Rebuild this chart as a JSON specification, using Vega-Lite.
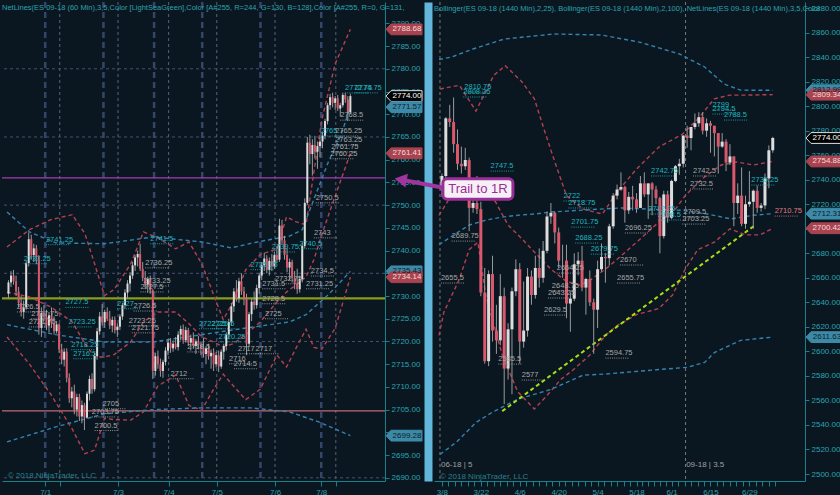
{
"$schema":"https://vega.github.io/schema/vega-lite/v6.json",
"background":"#0a1721",
"padding":0,
"spacing":49,
"bounds":"flush",
"config":{
 "view":{"stroke":null},
 "axis":{"labelFont":"Liberation Sans","labelFontSize":8,"labelColor":"#2aa3ad","domainColor":"#16808b","tickColor":"#16808b","grid":false,"tickSize":4,"labelPadding":2,"labelOverlap":false,"labelFlush":false},
 "title":{"font":"Liberation Sans","fontSize":7.5,"fontWeight":"normal","color":"#2aa3ad","anchor":"start","frame":"group","offset":-11}
},
"datasets":{
"L":[
{"i":0,"o":2730.5,"h":2733.5,"l":2729.5,"c":2733},{"i":1,"o":2733,"h":2735.5,"l":2732,"c":2734.5},{"i":2,"o":2734.5,"h":2735.75,"l":2732.5,"c":2733.25},{"i":3,"o":2733.25,"h":2734.5,"l":2730,"c":2731},{"i":4,"o":2731,"h":2732,"l":2727.5,"c":2728.5},{"i":5,"o":2728.5,"h":2730,"l":2725.5,"c":2726.5},{"i":6,"o":2726.5,"h":2729,"l":2725,"c":2727.5},{"i":7,"o":2727.5,"h":2737.75,"l":2727,"c":2737.25},{"i":8,"o":2737.25,"h":2744,"l":2736.5,"c":2742.5},{"i":9,"o":2742.5,"h":2743.5,"l":2738,"c":2739},
{"i":10,"o":2739,"h":2741.5,"l":2737.5,"c":2740.5},{"i":11,"o":2740.5,"h":2741.25,"l":2737,"c":2738.5},{"i":12,"o":2738.5,"h":2739,"l":2721.5,"c":2723},{"i":13,"o":2723,"h":2727.5,"l":2721,"c":2726.25},{"i":14,"o":2726.25,"h":2728,"l":2724.5,"c":2725.5},{"i":15,"o":2725.5,"h":2727,"l":2722.5,"c":2723.5},{"i":16,"o":2723.5,"h":2726.5,"l":2722,"c":2725.75},{"i":17,"o":2725.75,"h":2727.5,"l":2723,"c":2724},{"i":18,"o":2724,"h":2725.5,"l":2721.5,"c":2722.25},{"i":19,"o":2722.25,"h":2724.5,"l":2721.75,"c":2723.75},
{"i":20,"o":2723.75,"h":2724,"l":2717.5,"c":2718.25},{"i":21,"o":2718.25,"h":2719.5,"l":2715,"c":2716},{"i":22,"o":2716,"h":2718.5,"l":2714.5,"c":2717.75},{"i":23,"o":2717.75,"h":2718.5,"l":2711,"c":2712},{"i":24,"o":2712,"h":2713,"l":2706.5,"c":2707.5},{"i":25,"o":2707.5,"h":2710,"l":2705.5,"c":2709},{"i":26,"o":2709,"h":2710.5,"l":2704,"c":2705},{"i":27,"o":2705,"h":2708.5,"l":2703.5,"c":2707.75},{"i":28,"o":2707.75,"h":2708.5,"l":2702.5,"c":2703.5},{"i":29,"o":2703.5,"h":2707,"l":2702,"c":2706},
{"i":30,"o":2706,"h":2706.5,"l":2700.5,"c":2703.25},{"i":31,"o":2703.25,"h":2709,"l":2703,"c":2708.5},{"i":32,"o":2708.5,"h":2712.5,"l":2707,"c":2711.75},{"i":33,"o":2711.75,"h":2713,"l":2708.5,"c":2709.5},{"i":34,"o":2709.5,"h":2717.5,"l":2709,"c":2716.75},{"i":35,"o":2716.75,"h":2723,"l":2716,"c":2722.25},{"i":36,"o":2722.25,"h":2726.5,"l":2721.5,"c":2725.5},{"i":37,"o":2725.5,"h":2728.25,"l":2723.5,"c":2724.25},{"i":38,"o":2724.25,"h":2727,"l":2723,"c":2726.5},{"i":39,"o":2726.5,"h":2727.5,"l":2724.5,"c":2725},
{"i":40,"o":2725,"h":2726.75,"l":2722.75,"c":2723.5},{"i":41,"o":2723.5,"h":2725.5,"l":2722,"c":2724.75},{"i":42,"o":2724.75,"h":2725.5,"l":2721.75,"c":2722.5},{"i":43,"o":2722.5,"h":2724,"l":2721,"c":2723.25},{"i":44,"o":2723.25,"h":2726,"l":2722.5,"c":2725.5},{"i":45,"o":2725.5,"h":2728.5,"l":2724.75,"c":2728},{"i":46,"o":2728,"h":2731.5,"l":2727.25,"c":2730.75},{"i":47,"o":2730.75,"h":2733.5,"l":2729.5,"c":2732.75},{"i":48,"o":2732.75,"h":2735.25,"l":2731,"c":2734.5},{"i":49,"o":2734.5,"h":2737.5,"l":2733.75,"c":2736.75},
{"i":50,"o":2736.75,"h":2739,"l":2735.5,"c":2738.5},{"i":51,"o":2738.5,"h":2740,"l":2736.5,"c":2739.25},{"i":52,"o":2739.25,"h":2741.5,"l":2735.5,"c":2736},{"i":53,"o":2736,"h":2737.5,"l":2733.25,"c":2734},{"i":54,"o":2734,"h":2735.5,"l":2731.5,"c":2732.5},{"i":55,"o":2732.5,"h":2734.25,"l":2730.75,"c":2733.75},{"i":56,"o":2733.75,"h":2734.5,"l":2730.5,"c":2731.25},{"i":57,"o":2731.25,"h":2731.5,"l":2711.75,"c":2713.5},{"i":58,"o":2713.5,"h":2717.5,"l":2712.5,"c":2716.75},{"i":59,"o":2716.75,"h":2718,"l":2714,"c":2715},
{"i":60,"o":2715,"h":2716.25,"l":2712.25,"c":2713.5},{"i":61,"o":2713.5,"h":2716,"l":2712,"c":2715.5},{"i":62,"o":2715.5,"h":2718.75,"l":2714.75,"c":2718},{"i":63,"o":2718,"h":2720.5,"l":2717,"c":2719.75},{"i":64,"o":2719.75,"h":2720.75,"l":2717.5,"c":2718.5},{"i":65,"o":2718.5,"h":2720.25,"l":2717.75,"c":2719.5},{"i":66,"o":2719.5,"h":2721,"l":2718.25,"c":2718.75},{"i":67,"o":2718.75,"h":2722.25,"l":2718,"c":2721.5},{"i":68,"o":2721.5,"h":2723.5,"l":2720.25,"c":2722.75},{"i":69,"o":2722.75,"h":2723.75,"l":2719.5,"c":2720.25},
{"i":70,"o":2720.25,"h":2723.25,"l":2719.75,"c":2722.5},{"i":71,"o":2722.5,"h":2723,"l":2719,"c":2719.75},{"i":72,"o":2719.75,"h":2721.5,"l":2718,"c":2720.75},{"i":73,"o":2720.75,"h":2722,"l":2718.5,"c":2719},{"i":74,"o":2719,"h":2720.5,"l":2717.25,"c":2720},{"i":75,"o":2720,"h":2721.25,"l":2718.25,"c":2719.25},{"i":76,"o":2719.25,"h":2720,"l":2717,"c":2718.5},{"i":77,"o":2718.5,"h":2720.75,"l":2716.5,"c":2717.25},{"i":78,"o":2717.25,"h":2719,"l":2715,"c":2718.5},{"i":79,"o":2718.5,"h":2719.5,"l":2716,"c":2716.75},
{"i":80,"o":2716.75,"h":2718.25,"l":2714,"c":2717.5},{"i":81,"o":2717.5,"h":2718.5,"l":2713.5,"c":2715},{"i":82,"o":2715,"h":2717.75,"l":2714.25,"c":2717},{"i":83,"o":2717,"h":2718,"l":2713.25,"c":2714.5},{"i":84,"o":2714.5,"h":2718.25,"l":2714,"c":2717.75},{"i":85,"o":2717.75,"h":2719.5,"l":2716,"c":2719},{"i":86,"o":2719,"h":2722,"l":2718,"c":2721.5},{"i":87,"o":2721.5,"h":2725,"l":2720.5,"c":2724.25},{"i":88,"o":2724.25,"h":2728.5,"l":2723.5,"c":2727.75},{"i":89,"o":2727.75,"h":2731.75,"l":2726.5,"c":2731},
{"i":90,"o":2731,"h":2733.5,"l":2728.75,"c":2729.5},{"i":91,"o":2729.5,"h":2734,"l":2728.5,"c":2733.25},{"i":92,"o":2733.25,"h":2735,"l":2730.25,"c":2731},{"i":93,"o":2731,"h":2732,"l":2728,"c":2729.5},{"i":94,"o":2729.5,"h":2730.5,"l":2717,"c":2719.5},{"i":95,"o":2719.5,"h":2726.5,"l":2718.75,"c":2726},{"i":96,"o":2726,"h":2729.5,"l":2724.5,"c":2728.75},{"i":97,"o":2728.75,"h":2731,"l":2727,"c":2728},{"i":98,"o":2728,"h":2732.5,"l":2727.25,"c":2731.75},{"i":99,"o":2731.75,"h":2735,"l":2730.5,"c":2734.5},
{"i":100,"o":2734.5,"h":2737.5,"l":2733.5,"c":2736.75},{"i":101,"o":2736.75,"h":2739.5,"l":2735.5,"c":2738.25},{"i":102,"o":2738.25,"h":2739,"l":2735,"c":2735.75},{"i":103,"o":2735.75,"h":2738.5,"l":2734.5,"c":2737.75},{"i":104,"o":2737.75,"h":2739.25,"l":2735.5,"c":2736.5},{"i":105,"o":2736.5,"h":2739.75,"l":2736,"c":2739},{"i":106,"o":2739,"h":2741,"l":2737.25,"c":2738},{"i":107,"o":2738,"h":2747,"l":2737.5,"c":2745.5},{"i":108,"o":2745.5,"h":2746.75,"l":2741.5,"c":2742.25},{"i":109,"o":2742.25,"h":2743.25,"l":2738,"c":2739},
{"i":110,"o":2739,"h":2740.5,"l":2735.25,"c":2736.25},{"i":111,"o":2736.25,"h":2738.25,"l":2733.5,"c":2737.5},{"i":112,"o":2737.5,"h":2738,"l":2733,"c":2734},{"i":113,"o":2734,"h":2735.5,"l":2731.5,"c":2732.75},{"i":114,"o":2732.75,"h":2736,"l":2730.5,"c":2731.5},{"i":115,"o":2731.5,"h":2734.5,"l":2730.75,"c":2733.75},{"i":116,"o":2733.75,"h":2741.75,"l":2733,"c":2741},{"i":117,"o":2741,"h":2751.5,"l":2740.5,"c":2750.5},{"i":118,"o":2750.5,"h":2765,"l":2750,"c":2763.75},{"i":119,"o":2763.75,"h":2765.5,"l":2759,"c":2761.25},
{"i":120,"o":2761.25,"h":2764.5,"l":2756.5,"c":2763.25},{"i":121,"o":2763.25,"h":2765.25,"l":2760.25,"c":2761.75},{"i":122,"o":2761.75,"h":2764,"l":2758,"c":2763},{"i":123,"o":2763,"h":2765,"l":2760.5,"c":2764},{"i":124,"o":2764,"h":2766,"l":2762.5,"c":2765.25},{"i":125,"o":2765.25,"h":2769,"l":2764.5,"c":2768.5},{"i":126,"o":2768.5,"h":2772.5,"l":2767.75,"c":2772},{"i":127,"o":2772,"h":2774.5,"l":2771,"c":2773.75},{"i":128,"o":2773.75,"h":2774.75,"l":2771.5,"c":2772.5},{"i":129,"o":2772.5,"h":2774,"l":2771,"c":2773.5},
{"i":130,"o":2773.5,"h":2774.25,"l":2770.75,"c":2771.25},{"i":131,"o":2771.25,"h":2772.5,"l":2769.5,"c":2772},{"i":132,"o":2772,"h":2774.75,"l":2771.5,"c":2774.25},{"i":133,"o":2774.25,"h":2774.75,"l":2772.5,"c":2773.25},{"i":134,"o":2773.25,"h":2774,"l":2768.5,"c":2770.5},{"i":135,"o":2770.5,"h":2774.5,"l":2770,"c":2774}
],
"R":[
{"i":0,"o":2732,"h":2745,"l":2726,"c":2743},{"i":1,"o":2743,"h":2791,"l":2740,"c":2790},{"i":2,"o":2790,"h":2801,"l":2783,"c":2787},{"i":3,"o":2787,"h":2807,"l":2762,"c":2769},{"i":4,"o":2769,"h":2781,"l":2748,"c":2753},{"i":5,"o":2753,"h":2767,"l":2745,"c":2751},{"i":6,"o":2751,"h":2766,"l":2748,"c":2756},{"i":7,"o":2756,"h":2758,"l":2698,"c":2717},{"i":8,"o":2717,"h":2728,"l":2713,"c":2721},{"i":9,"o":2721,"h":2743,"l":2712,"c":2716},
{"i":10,"o":2716,"h":2722,"l":2645,"c":2648},{"i":11,"o":2648,"h":2668,"l":2590,"c":2592},{"i":12,"o":2592,"h":2666,"l":2588,"c":2663},{"i":13,"o":2663,"h":2678,"l":2608,"c":2617},{"i":14,"o":2617,"h":2638,"l":2598,"c":2609},{"i":15,"o":2609,"h":2663,"l":2605,"c":2645},{"i":16,"o":2645,"h":2652,"l":2557,"c":2586},{"i":17,"o":2586,"h":2623,"l":2577,"c":2618},{"i":18,"o":2618,"h":2652,"l":2565,"c":2649},{"i":19,"o":2649,"h":2675,"l":2645,"c":2667},
{"i":20,"o":2667,"h":2672,"l":2590,"c":2608},{"i":21,"o":2608,"h":2657,"l":2603,"c":2617},{"i":22,"o":2617,"h":2668,"l":2612,"c":2661},{"i":23,"o":2661,"h":2666,"l":2638,"c":2646},{"i":24,"o":2646,"h":2678,"l":2643,"c":2668},{"i":25,"o":2668,"h":2684,"l":2652,"c":2660},{"i":26,"o":2660,"h":2690,"l":2656,"c":2682},{"i":27,"o":2682,"h":2714,"l":2680,"c":2710},{"i":28,"o":2710,"h":2721,"l":2704,"c":2713},{"i":29,"o":2713,"h":2714,"l":2688,"c":2697},
{"i":30,"o":2697,"h":2701,"l":2668,"c":2674},{"i":31,"o":2674,"h":2687,"l":2660,"c":2674},{"i":32,"o":2674,"h":2687,"l":2627,"c":2639},{"i":33,"o":2639,"h":2648,"l":2616,"c":2643},{"i":34,"o":2643,"h":2680,"l":2641,"c":2671},{"i":35,"o":2671,"h":2681,"l":2662,"c":2674},{"i":36,"o":2674,"h":2686,"l":2649,"c":2652},{"i":37,"o":2652,"h":2660,"l":2630,"c":2659},{"i":38,"o":2659,"h":2666,"l":2637,"c":2640},{"i":39,"o":2640,"h":2643,"l":2598,"c":2634},
{"i":40,"o":2634,"h":2674,"l":2619,"c":2667},{"i":41,"o":2667,"h":2688,"l":2665,"c":2677},{"i":42,"o":2677,"h":2680,"l":2656,"c":2676},{"i":43,"o":2676,"h":2704,"l":2670,"c":2702},{"i":44,"o":2702,"h":2729,"l":2700,"c":2727},{"i":45,"o":2727,"h":2736,"l":2724,"c":2732},{"i":46,"o":2732,"h":2746,"l":2731,"c":2734},{"i":47,"o":2734,"h":2735,"l":2705,"c":2715},{"i":48,"o":2715,"h":2730,"l":2712,"c":2726},{"i":49,"o":2726,"h":2735,"l":2715,"c":2724},
{"i":50,"o":2724,"h":2729,"l":2713,"c":2717},{"i":51,"o":2717,"h":2743,"l":2717,"c":2737},{"i":52,"o":2737,"h":2746,"l":2726,"c":2728},{"i":53,"o":2728,"h":2737,"l":2708,"c":2737},{"i":54,"o":2737,"h":2738,"l":2711,"c":2732},{"i":55,"o":2732,"h":2735,"l":2720,"c":2725},{"i":56,"o":2725,"h":2726,"l":2680,"c":2694},{"i":57,"o":2694,"h":2731,"l":2692,"c":2728},{"i":58,"o":2728,"h":2731,"l":2705,"c":2709},{"i":59,"o":2709,"h":2740,"l":2708,"c":2739},
{"i":60,"o":2739,"h":2752,"l":2738,"c":2751},{"i":61,"o":2751,"h":2757,"l":2744,"c":2753},{"i":62,"o":2753,"h":2776,"l":2750,"c":2776},{"i":63,"o":2776,"h":2784,"l":2766,"c":2774},{"i":64,"o":2774,"h":2783,"l":2764,"c":2783},{"i":65,"o":2783,"h":2794,"l":2781,"c":2786},{"i":66,"o":2786,"h":2795,"l":2783,"c":2791},{"i":67,"o":2791,"h":2795,"l":2777,"c":2780},{"i":68,"o":2780,"h":2790,"l":2775,"c":2786},{"i":69,"o":2786,"h":2788,"l":2762,"c":2784},
{"i":70,"o":2784,"h":2784,"l":2759,"c":2778},{"i":71,"o":2778,"h":2778,"l":2745,"c":2767},{"i":72,"o":2767,"h":2778,"l":2766,"c":2771},{"i":73,"o":2771,"h":2773,"l":2747,"c":2754},{"i":74,"o":2754,"h":2769,"l":2752,"c":2759},{"i":75,"o":2759,"h":2759,"l":2702,"c":2721},{"i":76,"o":2721,"h":2737,"l":2712,"c":2727},{"i":77,"o":2727,"h":2750,"l":2702,"c":2704},{"i":78,"o":2704,"h":2727,"l":2700,"c":2720},{"i":79,"o":2720,"h":2747,"l":2718,"c":2722},
{"i":80,"o":2722,"h":2732,"l":2700,"c":2731},{"i":81,"o":2731,"h":2735.25,"l":2713,"c":2717},{"i":82,"o":2717,"h":2721,"l":2714,"c":2719},{"i":83,"o":2719,"h":2745,"l":2716,"c":2741},{"i":84,"o":2741,"h":2768,"l":2733,"c":2764},{"i":85,"o":2764,"h":2775,"l":2762,"c":2774}
],
"LB":[
{"s":"ru","i":-0.58,"p":2740.8},{"s":"ru","i":8.3,"p":2744.6},{"s":"ru","i":16.7,"p":2746.8},{"s":"ru","i":25.2,"p":2747.9},{"s":"ru","i":30.2,"p":2743.7},{"s":"ru","i":34,"p":2737.1},{"s":"ru","i":37.9,"p":2730.1},{"s":"ru","i":41.7,"p":2731.4},{"s":"ru","i":48.3,"p":2737.1},{"s":"ru","i":53.3,"p":2744.1},{"s":"ru","i":59,"p":2742.8},{"s":"ru","i":66,"p":2740.4},{"s":"ru","i":71.3,"p":2741.9},{"s":"ru","i":76.3,"p":2737.1},{"s":"ru","i":81,"p":2730.3},{"s":"ru","i":84.8,"p":2724.8},{"s":"ru","i":88.7,"p":2728.7},{"s":"ru","i":93.7,"p":2735.8},{"s":"ru","i":99.4,"p":2739.1},{"s":"ru","i":106,"p":2740.4},{"s":"ru","i":109.8,"p":2747.4},{"s":"ru","i":113.7,"p":2746.3},{"s":"ru","i":117.5,"p":2745.7},{"s":"ru","i":120.6,"p":2757.3},{"s":"ru","i":123.7,"p":2768.7},{"s":"ru","i":129,"p":2781.1},{"s":"ru","i":135,"p":2788.68},
{"s":"rm","i":-0.58,"p":2730.9},{"s":"rm","i":8.3,"p":2729.8},{"s":"rm","i":16.7,"p":2727.6},{"s":"rm","i":25.2,"p":2724.3},{"s":"rm","i":30.2,"p":2719.5},{"s":"rm","i":34,"p":2716.6},{"s":"rm","i":37.9,"p":2716.6},{"s":"rm","i":41.7,"p":2717.1},{"s":"rm","i":48.3,"p":2719.9},{"s":"rm","i":53.3,"p":2724.3},{"s":"rm","i":59,"p":2726.5},{"s":"rm","i":66,"p":2726.5},{"s":"rm","i":71.3,"p":2723.9},{"s":"rm","i":76.3,"p":2721},{"s":"rm","i":81,"p":2719.9},{"s":"rm","i":84.8,"p":2718.8},{"s":"rm","i":88.7,"p":2719.5},{"s":"rm","i":93.7,"p":2721.5},{"s":"rm","i":99.4,"p":2724.3},{"s":"rm","i":106,"p":2728.7},{"s":"rm","i":109.8,"p":2730.9},{"s":"rm","i":113.7,"p":2732.5},{"s":"rm","i":117.5,"p":2734.2},{"s":"rm","i":120.6,"p":2738},{"s":"rm","i":123.7,"p":2743.5},{"s":"rm","i":129,"p":2752},{"s":"rm","i":135,"p":2761.41},
{"s":"rl","i":-0.58,"p":2721},{"s":"rl","i":8.3,"p":2715},{"s":"rl","i":16.7,"p":2708.4},{"s":"rl","i":25.2,"p":2700.7},{"s":"rl","i":30.2,"p":2695.3},{"s":"rl","i":34,"p":2696.1},{"s":"rl","i":37.9,"p":2703.1},{"s":"rl","i":41.7,"p":2702.8},{"s":"rl","i":48.3,"p":2702.7},{"s":"rl","i":53.3,"p":2704.5},{"s":"rl","i":59,"p":2710.2},{"s":"rl","i":66,"p":2712.6},{"s":"rl","i":71.3,"p":2705.9},{"s":"rl","i":76.3,"p":2704.9},{"s":"rl","i":81,"p":2709.5},{"s":"rl","i":84.8,"p":2712.8},{"s":"rl","i":88.7,"p":2710.3},{"s":"rl","i":93.7,"p":2707.2},{"s":"rl","i":99.4,"p":2709.5},{"s":"rl","i":106,"p":2717},{"s":"rl","i":109.8,"p":2714.4},{"s":"rl","i":113.7,"p":2718.7},{"s":"rl","i":117.5,"p":2722.7},{"s":"rl","i":120.6,"p":2718.7},{"s":"rl","i":123.7,"p":2718.3},{"s":"rl","i":129,"p":2722.9},{"s":"rl","i":135,"p":2734.14},
{"s":"bu","i":-0.58,"p":2748.5},{"s":"bu","i":8.3,"p":2744.1},{"s":"bu","i":18.7,"p":2741.7},{"s":"bu","i":37.9,"p":2741.5},{"s":"bu","i":57.1,"p":2743},{"s":"bu","i":76.3,"p":2741.9},{"s":"bu","i":87.9,"p":2740.6},{"s":"bu","i":98.3,"p":2741.9},{"s":"bu","i":111,"p":2743.2},{"s":"bu","i":116,"p":2744.6},{"s":"bu","i":121.3,"p":2752.3},{"s":"bu","i":126.3,"p":2759.5},{"s":"bu","i":131.3,"p":2765.4},{"s":"bu","i":135,"p":2771.57},
{"s":"bm","i":-0.58,"p":2723.7},{"s":"bm","i":18.7,"p":2721.5},{"s":"bm","i":37.9,"p":2719.9},{"s":"bm","i":57.1,"p":2719.9},{"s":"bm","i":76.3,"p":2721.5},{"s":"bm","i":91.7,"p":2722.8},{"s":"bm","i":111,"p":2724.3},{"s":"bm","i":117.5,"p":2725.9},{"s":"bm","i":126.3,"p":2730.3},{"s":"bm","i":135,"p":2735.43},
{"s":"bl","i":-0.58,"p":2697.9},{"s":"bl","i":18.7,"p":2701.2},{"s":"bl","i":37.9,"p":2704.1},{"s":"bl","i":57.1,"p":2705},{"s":"bl","i":76.3,"p":2705.4},{"s":"bl","i":95.6,"p":2705.4},{"s":"bl","i":111,"p":2704.5},{"s":"bl","i":122.5,"p":2702.3},{"s":"bl","i":135,"p":2699.28}
],
"RB":[
{"s":"ru","i":-0.5,"p":2814},{"s":"ru","i":4.5,"p":2817},{"s":"ru","i":8.75,"p":2796},{"s":"ru","i":13.3,"p":2825},{"s":"ru","i":16.25,"p":2833},{"s":"ru","i":20.5,"p":2820},{"s":"ru","i":23.75,"p":2806},{"s":"ru","i":26.25,"p":2781},{"s":"ru","i":28.75,"p":2757},{"s":"ru","i":32,"p":2727},{"s":"ru","i":36.25,"p":2716},{"s":"ru","i":41.25,"p":2712},{"s":"ru","i":45,"p":2730},{"s":"ru","i":50,"p":2748.7},{"s":"ru","i":55.75,"p":2766.6},{"s":"ru","i":61.75,"p":2777},{"s":"ru","i":65.75,"p":2789.5},{"s":"ru","i":70,"p":2806},{"s":"ru","i":74,"p":2809},{"s":"ru","i":78,"p":2809},{"s":"ru","i":85,"p":2809.34},
{"s":"rm","i":-0.75,"p":2711},{"s":"rm","i":3,"p":2730},{"s":"rm","i":7,"p":2742},{"s":"rm","i":10,"p":2736},{"s":"rm","i":13.75,"p":2722},{"s":"rm","i":17,"p":2703},{"s":"rm","i":20.5,"p":2692},{"s":"rm","i":23.75,"p":2681},{"s":"rm","i":28,"p":2667},{"s":"rm","i":32,"p":2657},{"s":"rm","i":35.5,"p":2654},{"s":"rm","i":38,"p":2658},{"s":"rm","i":42,"p":2667},{"s":"rm","i":45,"p":2675},{"s":"rm","i":50,"p":2689},{"s":"rm","i":55.75,"p":2705.5},{"s":"rm","i":60,"p":2716},{"s":"rm","i":62.5,"p":2727},{"s":"rm","i":66.75,"p":2740.5},{"s":"rm","i":71.75,"p":2752},{"s":"rm","i":75.75,"p":2754.4},{"s":"rm","i":80,"p":2752},{"s":"rm","i":85,"p":2754.88},
{"s":"rl","i":-0.75,"p":2613},{"s":"rl","i":0.5,"p":2632},{"s":"rl","i":4.5,"p":2659},{"s":"rl","i":7,"p":2683},{"s":"rl","i":9.25,"p":2689},{"s":"rl","i":11.25,"p":2646},{"s":"rl","i":15.5,"p":2597},{"s":"rl","i":19.5,"p":2567},{"s":"rl","i":23.75,"p":2553},{"s":"rl","i":27,"p":2564},{"s":"rl","i":30.5,"p":2577},{"s":"rl","i":33.75,"p":2585},{"s":"rl","i":38,"p":2597},{"s":"rl","i":42,"p":2613},{"s":"rl","i":45,"p":2621},{"s":"rl","i":50,"p":2630},{"s":"rl","i":55.75,"p":2635},{"s":"rl","i":59.25,"p":2646},{"s":"rl","i":62.5,"p":2667},{"s":"rl","i":65.75,"p":2683},{"s":"rl","i":70,"p":2689},{"s":"rl","i":74,"p":2700},{"s":"rl","i":78,"p":2695},{"s":"rl","i":81.75,"p":2695},{"s":"rl","i":85,"p":2700.42},
{"s":"bu","i":-0.75,"p":2838},{"s":"bu","i":2.5,"p":2840},{"s":"bu","i":8,"p":2846.6},{"s":"bu","i":16,"p":2854.7},{"s":"bu","i":28.75,"p":2858.8},{"s":"bu","i":41,"p":2858},{"s":"bu","i":51,"p":2852},{"s":"bu","i":61,"p":2842.5},{"s":"bu","i":67.5,"p":2831.9},{"s":"bu","i":72.5,"p":2818},{"s":"bu","i":76.75,"p":2813},{"s":"bu","i":85,"p":2812.99},
{"s":"bm","i":-0.75,"p":2687},{"s":"bm","i":3,"p":2694.8},{"s":"bm","i":7,"p":2703},{"s":"bm","i":11.25,"p":2707},{"s":"bm","i":15.5,"p":2709.5},{"s":"bm","i":19.5,"p":2711},{"s":"bm","i":23.75,"p":2712},{"s":"bm","i":28,"p":2713.6},{"s":"bm","i":32,"p":2714.4},{"s":"bm","i":36.25,"p":2715.2},{"s":"bm","i":40.5,"p":2716},{"s":"bm","i":46.25,"p":2717},{"s":"bm","i":53.25,"p":2716},{"s":"bm","i":61.75,"p":2715},{"s":"bm","i":68.25,"p":2712},{"s":"bm","i":74.25,"p":2708},{"s":"bm","i":80,"p":2711},{"s":"bm","i":85,"p":2712.31},
{"s":"bl","i":-0.5,"p":2516},{"s":"bl","i":3.75,"p":2526},{"s":"bl","i":8.75,"p":2542},{"s":"bl","i":13,"p":2550.5},{"s":"bl","i":19.5,"p":2561},{"s":"bl","i":28,"p":2569},{"s":"bl","i":36.25,"p":2580.6},{"s":"bl","i":42,"p":2581.5},{"s":"bl","i":55,"p":2585},{"s":"bl","i":63,"p":2587},{"s":"bl","i":67.5,"p":2591},{"s":"bl","i":70,"p":2599},{"s":"bl","i":76.75,"p":2609},{"s":"bl","i":85,"p":2611.63}
],
"LT":[
{"i":14.8,"p":2742.4,"t":"2741.25","k":"c"},{"i":6,"p":2738.2,"t":"2737.25","k":"c"},{"i":22.5,"p":2728.6,"t":"2727.5","k":"c"},{"i":23.7,"p":2724.3,"t":"2723.25","k":"c"},{"i":24.8,"p":2719.3,"t":"2718.25","k":"c"},{"i":25.6,"p":2717.3,"t":"2716.5","k":"c"},{"i":3.3,"p":2727.6,"t":"2726.5","k":"g"},{"i":9,"p":2726.1,"t":"2727.75","k":"g"},{"i":8,"p":2724.3,"t":"2721.75","k":"g"},{"i":64,"p":2712.9,"t":"2712","k":"g"},{"i":37.1,"p":2706.3,"t":"2705","k":"g"},{"i":32.9,"p":2704.5,"t":"2703.75","k":"g"},{"i":34,"p":2701.5,"t":"2700.5","k":"g"},{"i":56,"p":2742.6,"t":"2741.5","k":"c"},{"i":54,"p":2737.3,"t":"2736.25","k":"g"},{"i":53.3,"p":2733.3,"t":"2733.25","k":"g"},{"i":52.1,"p":2732,"t":"2727.5","k":"g"},{"i":42.9,"p":2728.3,"t":"2727","k":"c"},{"i":49.4,"p":2727.8,"t":"2726.5","k":"g"},{"i":47.5,"p":2724.5,"t":"2723.25","k":"g"},{"i":48.7,"p":2723,"t":"2721.75","k":"g"},{"i":70.6,"p":2718.8,"t":"2718.5","k":"g"},{"i":75.2,"p":2723.9,"t":"2722.25","k":"c"},{"i":80.2,"p":2723.9,"t":"2725.5","k":"c"},{"i":82.9,"p":2721,"t":"2720.25","k":"c"},{"i":90.6,"p":2718.4,"t":"2717","k":"g"},{"i":97.5,"p":2718.4,"t":"2717","k":"g"},{"i":87.1,"p":2716.2,"t":"2716","k":"g"},{"i":89,"p":2715.1,"t":"2714.5","k":"g"},{"i":101.3,"p":2726.1,"t":"2725","k":"g"},{"i":100.2,"p":2729.4,"t":"2728.5","k":"g"},{"i":100.2,"p":2732.7,"t":"2731.5","k":"g"},{"i":105.2,"p":2733.8,"t":"2732.75","k":"g"},{"i":119.4,"p":2735.5,"t":"2734.5","k":"g"},{"i":117.5,"p":2732.7,"t":"2731.25","k":"g"},{"i":95.6,"p":2736.9,"t":"2735.75","k":"c"},{"i":104,"p":2740.8,"t":"2739.75","k":"c"},{"i":114.8,"p":2741.5,"t":"2740.5","k":"c"},{"i":120.6,"p":2743.9,"t":"2743","k":"g"},{"i":121.3,"p":2751.6,"t":"2750.5","k":"g"},{"i":123.3,"p":2766.3,"t":"2765","k":"c"},{"i":129,"p":2766.3,"t":"2765.25","k":"g"},{"i":129,"p":2764.3,"t":"2763.25","k":"g"},{"i":127.5,"p":2762.8,"t":"2761.75","k":"g"},{"i":127.1,"p":2761.3,"t":"2760.25","k":"g"},{"i":131,"p":2769.8,"t":"2768.5","k":"g"},{"i":132.9,"p":2775.8,"t":"2772.75","k":"c"},{"i":136.7,"p":2775.8,"t":"2774.75","k":"c"}
],
"RT":[
{"i":5.75,"p":2815.6,"t":"2810.75","k":"c"},{"i":5.5,"p":2811.5,"t":"2808.25","k":"c"},{"i":12.5,"p":2751.1,"t":"2747.5","k":"c"},{"i":2.5,"p":2694,"t":"2689.75","k":"g"},{"i":-0.25,"p":2659.8,"t":"2655.5","k":"g"},{"i":31.25,"p":2726.7,"t":"2722","k":"c"},{"i":32.5,"p":2721,"t":"2718.75","k":"c"},{"i":33.25,"p":2705.4,"t":"2701.75","k":"c"},{"i":34.25,"p":2692.4,"t":"2688.25","k":"c"},{"i":38.25,"p":2683.4,"t":"2679.75","k":"c"},{"i":29.5,"p":2667.9,"t":"2664.25","k":"g"},{"i":28.25,"p":2653.2,"t":"2648.75","k":"g"},{"i":27.25,"p":2647.6,"t":"2643.25","k":"g"},{"i":26.25,"p":2633.7,"t":"2629.5","k":"g"},{"i":14.5,"p":2593.7,"t":"2585.5","k":"g"},{"i":20.5,"p":2580.7,"t":"2577","k":"g"},{"i":42,"p":2598.6,"t":"2594.75","k":"g"},{"i":45.75,"p":2674.5,"t":"2670","k":"g"},{"i":45,"p":2659.8,"t":"2655.75","k":"g"},{"i":47,"p":2700.6,"t":"2696.25","k":"g"},{"i":53.75,"p":2747.1,"t":"2742.75","k":"c"},{"i":64.5,"p":2747.1,"t":"2742.5","k":"g"},{"i":63.75,"p":2736.5,"t":"2732.5","k":"g"},{"i":53,"p":2716.1,"t":"2712.25","k":"c"},{"i":55.5,"p":2711.2,"t":"2708.5","k":"c"},{"i":62,"p":2713.6,"t":"2709.5","k":"g"},{"i":61.75,"p":2707.9,"t":"2703.25","k":"g"},{"i":79.5,"p":2739.7,"t":"2735.25","k":"c"},{"i":85.5,"p":2714.4,"t":"2710.75","k":"s"},{"i":69.5,"p":2800.9,"t":"2799","k":"c"},{"i":69.5,"p":2797.6,"t":"2794.5","k":"c"},{"i":72.5,"p":2792.7,"t":"2788.5","k":"c"}
],
"LF":[{"p":2788.68,"k":"r"},{"p":2774.00,"k":"k"},{"p":2771.57,"k":"b"},{"p":2761.41,"k":"r"},{"p":2735.43,"k":"b"},{"p":2734.14,"k":"r"},{"p":2699.28,"k":"b"}],
"RF":[{"p":2812.99,"k":"b"},{"p":2809.34,"k":"r"},{"p":2774.00,"k":"k"},{"p":2754.88,"k":"r"},{"p":2712.31,"k":"b"},{"p":2700.42,"k":"r"},{"p":2611.63,"k":"b"}],
"LH":[{"p":2780},{"p":2765},{"p":2750},{"p":2735},{"p":2720},{"p":2690}],
"LS":[{"p":2756,"k":"m"},{"p":2729.5,"k":"g"},{"p":2704.75,"k":"p"}],
"LVS":[{"v":14.5},{"v":37.5},{"v":57.5},{"v":76.5},{"v":99.5},{"v":123.5}],
"LVM":[{"v":20.25},{"v":43.25},{"v":63.25},{"v":82.25},{"v":105.25},{"v":129.25}],
"RV":[{"v":-0.5},{"v":62.6}],
"TR":[{"i":15.5,"p":2551.3},{"i":80.5,"p":2703}],
"NOTE":[{"i":9.25,"p":2732.4,"t":"Trail to 1R"}],
"ARROW":[{"i":0.75,"i2":-10,"p":2733.2,"p2":2739.7}],
"HEAD":[{"i":-10.6,"p":2740.1}],
"LC":[{"i":-0.3,"p":2690.4,"t":"© 2018 NinjaTrader, LLC"}],
"RC":[{"i":-0.5,"p":2497.5,"t":"© 2018 NinjaTrader, LLC","k":"c"},{"i":-0.25,"p":2507.5,"t":"06-18 | 5","k":"g"},{"i":62.75,"p":2507.5,"t":"09-18 | 3.5","k":"g"}]
},
"hconcat":[
{
"width":383,"height":479,
"title":{"text":"NetLines(ES 09-18 (60 Min),3,5,Color [LightSeaGreen],Color [A#255, R=244, G=130, B=128],Color [A#255, R=0, G=131,"},
"resolve":{"axis":{"x":"independent","y":"independent"}},
"layer":[
{"data":{"name":"L"},"mark":{"type":"bar","size":2},
 "encoding":{"x":{"field":"i","type":"quantitative","scale":{"domain":[-0.58,146.7],"nice":false,"zero":false},
   "axis":{"title":null,"values":[14.5,20.25,43.25,63.25,82.25,105.25,123.5,129.25],"labelExpr":"datum.value==14.5?'7/1':datum.value==43.25?'7/3':datum.value==63.25?'7/4':datum.value==82.25?'7/5':datum.value==105.25?'7/6':datum.value==123.5?'7/8':''","labelOverlap":false,"labelFlush":false,"tickSize":5,"labelFontSize":8}},
  "y":{"field":"o","type":"quantitative","scale":{"domain":[2689.3,2794.7],"nice":false,"zero":false},
   "axis":{"title":null,"orient":"right","values":[2690,2695,2700,2705,2710,2715,2720,2725,2730,2735,2740,2745,2750,2755,2760,2765,2770,2775,2780,2785,2790],"format":".2f","labelOverlap":false,"labelFlush":false}},
  "y2":{"field":"c"},
  "color":{"value":"transparent"}}},
{"data":{"name":"LVS"},"mark":{"type":"rule","color":"#34456a","strokeWidth":2.5,"strokeDash":[6,4]},
 "encoding":{"x":{"field":"v","type":"quantitative","scale":{"domain":[-0.58,146.7],"nice":false,"zero":false},"axis":null}}},
{"data":{"name":"LVM"},"mark":{"type":"rule","color":"#5c6078","strokeWidth":1,"strokeDash":[3,3]},
 "encoding":{"x":{"field":"v","type":"quantitative","scale":{"domain":[-0.58,146.7],"nice":false,"zero":false},"axis":null}}},
{"data":{"name":"LH"},"mark":{"type":"rule","color":"#4e4e6e","strokeWidth":1,"strokeDash":[3,3]},
 "encoding":{"y":{"field":"p","type":"quantitative","scale":{"domain":[2689.3,2794.7],"nice":false,"zero":false},"axis":null}}},
{"data":{"name":"LS"},"mark":{"type":"rule"},
 "encoding":{"y":{"field":"p","type":"quantitative","scale":{"domain":[2689.3,2794.7],"nice":false,"zero":false},"axis":null},
  "color":{"condition":[{"test":"datum.k=='m'","value":"#a53cb0"},{"test":"datum.k=='g'","value":"#8a9c1c"}],"value":"#c06a74"},
  "strokeWidth":{"condition":{"test":"datum.k=='g'","value":2.2},"value":1.3}}},
{"data":{"name":"LB"},"mark":{"type":"line","strokeWidth":1.4,"strokeDash":[4,3],"clip":true},
 "encoding":{"x":{"field":"i","type":"quantitative","scale":{"domain":[-0.58,146.7],"nice":false,"zero":false},"axis":null},
  "y":{"field":"p","type":"quantitative","scale":{"domain":[2689.3,2794.7],"nice":false,"zero":false},"axis":null},
  "color":{"field":"s","type":"nominal","scale":{"domain":["ru","rm","rl","bu","bm","bl"],"range":["#b5404f","#b5404f","#b5404f","#3482ad","#3482ad","#3482ad"]},"legend":null}}},
{"data":{"name":"L"},"mark":{"type":"rule","color":"#9a9a9a","strokeWidth":1},
 "encoding":{"x":{"field":"i","type":"quantitative","scale":{"domain":[-0.58,146.7],"nice":false,"zero":false},"axis":null},
  "y":{"field":"l","type":"quantitative","scale":{"domain":[2689.3,2794.7],"nice":false,"zero":false},"axis":null},"y2":{"field":"h"}}},
{"data":{"name":"L"},"mark":{"type":"bar","size":2},
 "encoding":{"x":{"field":"i","type":"quantitative","scale":{"domain":[-0.58,146.7],"nice":false,"zero":false},"axis":null},
  "y":{"field":"o","type":"quantitative","scale":{"domain":[2689.3,2794.7],"nice":false,"zero":false},"axis":null},
  "y2":{"field":"c"},
  "color":{"condition":{"test":"datum.c>=datum.o","value":"#dcdcdc"},"value":"#d9586c"}}},
{"data":{"name":"LT"},"mark":{"type":"text","align":"left","baseline":"middle","fontSize":7.5,"font":"Liberation Sans"},
 "encoding":{"x":{"field":"i","type":"quantitative","scale":{"domain":[-0.58,146.7],"nice":false,"zero":false},"axis":null},
  "y":{"field":"p","type":"quantitative","scale":{"domain":[2689.3,2794.7],"nice":false,"zero":false},"axis":null},
  "text":{"field":"t"},
  "color":{"condition":{"test":"datum.k=='c'","value":"#1fb3bf"},"value":"#a6a6a6"}}},
{"data":{"name":"LT"},"mark":{"type":"point","shape":"M0,0 L1,0","filled":false,"size":2304,"strokeWidth":1,"strokeDash":[1,1.2],"yOffset":5,"opacity":0.85},
 "encoding":{"x":{"field":"i","type":"quantitative","scale":{"domain":[-0.58,146.7],"nice":false,"zero":false},"axis":null},
  "y":{"field":"p","type":"quantitative","scale":{"domain":[2689.3,2794.7],"nice":false,"zero":false},"axis":null},
  "color":{"condition":{"test":"datum.k=='c'","value":"#1fb3bf"},"value":"#a6a6a6"}}},
{"data":{"name":"LC"},"mark":{"type":"text","align":"left","baseline":"middle","fontSize":8,"font":"Liberation Sans","color":"#2a8088"},
 "encoding":{"x":{"field":"i","type":"quantitative","scale":{"domain":[-0.58,146.7],"nice":false,"zero":false},"axis":null},
  "y":{"field":"p","type":"quantitative","scale":{"domain":[2689.3,2794.7],"nice":false,"zero":false},"axis":null},
  "text":{"field":"t"}}},
{"data":{"name":"LF"},"mark":{"type":"point","filled":true,"opacity":1,"shape":"M0.05,0 L0.3,-0.27 L1.85,-0.27 L1.85,0.27 L0.3,0.27 Z","size":1600,"strokeWidth":1},
 "encoding":{"x":{"value":"width"},
  "y":{"field":"p","type":"quantitative","scale":{"domain":[2689.3,2794.7],"nice":false,"zero":false},"axis":null},
  "fill":{"condition":[{"test":"datum.k=='r'","value":"#a9434f"},{"test":"datum.k=='k'","value":"#000000"}],"value":"#3d8aa8"},
  "stroke":{"condition":[{"test":"datum.k=='r'","value":"#a9434f"},{"test":"datum.k=='k'","value":"#e0e0e0"}],"value":"#3d8aa8"}}},
{"data":{"name":"LF"},"mark":{"type":"text","align":"center","baseline":"middle","dx":22,"fontSize":8,"font":"Liberation Sans"},
 "encoding":{"x":{"value":"width"},
  "y":{"field":"p","type":"quantitative","scale":{"domain":[2689.3,2794.7],"nice":false,"zero":false},"axis":null},
  "text":{"field":"p","format":".2f"},
  "color":{"condition":[{"test":"datum.k=='r'","value":"#f2dcdc"},{"test":"datum.k=='k'","value":"#ffffff"}],"value":"#0c1e2a"}}}
]
},
{
"width":371,"height":479,
"title":{"text":"Bollinger(ES 09-18 (1440 Min),2,25), Bollinger(ES 09-18 (1440 Min),2,100), NetLines(ES 09-18 (1440 Min),3,5,Color"},
"resolve":{"axis":{"x":"independent","y":"independent"}},
"layer":[
{"data":{"name":"R"},"mark":{"type":"bar","size":3},
 "encoding":{"x":{"field":"i","type":"quantitative","scale":{"domain":[-0.75,92],"nice":false,"zero":false},
   "axis":{"title":null,"values":[0,1.67,3.33,5,6.67,8.33,10,11.67,13.33,15,16.67,18.33,20,21.67,23.33,25,26.67,28.33,30,31.67,33.33,35,36.67,38.33,40,41.67,43.33,45,46.67,48.33,50,51.5,53,54.5,56,57.5,59,60.67,62.33,64,65.67,67.33,69,70.67,72.33,74,75.67,77.33,79,80.67,82.33,84,85.67],"labelExpr":"datum.value==0?'3/8':datum.value==10?'3/22':datum.value==20?'4/6':datum.value==30?'4/20':datum.value==40?'5/4':datum.value==50?'5/18':datum.value==59?'6/1':datum.value==69?'6/15':datum.value==79?'6/29':''","labelOverlap":false,"labelFlush":false,"tickSize":5,"labelFontSize":8}},
  "y":{"field":"o","type":"quantitative","scale":{"domain":[2494.3,2884.9],"nice":false,"zero":false},
   "axis":{"title":null,"orient":"right","values":[2500,2520,2540,2560,2580,2600,2620,2640,2660,2680,2700,2720,2740,2760,2780,2800,2820,2840,2860,2880],"format":".2f","labelOverlap":false,"labelFlush":false}},
  "y2":{"field":"c"},
  "color":{"value":"transparent"}}},
{"data":{"name":"R"},"mark":{"type":"rule","color":"#9a9a9a","strokeWidth":0},
 "encoding":{"x":{"field":"i","type":"quantitative","scale":{"domain":[-0.75,92],"nice":false,"zero":false},"axis":null},
  "y":{"field":"l","type":"quantitative","scale":{"domain":[2494.3,2884.9],"nice":false,"zero":false},
   "axis":{"title":null,"orient":"left","labels":false,"ticks":false,"domainColor":"#62b6dc","domainWidth":8,"offset":6}},
  "y2":{"field":"h"}}},
{"data":{"name":"RV"},"mark":{"type":"rule","color":"#7a7a7a","strokeWidth":1,"strokeDash":[3,3]},
 "encoding":{"x":{"field":"v","type":"quantitative","scale":{"domain":[-0.75,92],"nice":false,"zero":false},"axis":null}}},
{"data":{"name":"RB"},"mark":{"type":"line","strokeWidth":1.4,"strokeDash":[4,3],"clip":true},
 "encoding":{"x":{"field":"i","type":"quantitative","scale":{"domain":[-0.75,92],"nice":false,"zero":false},"axis":null},
  "y":{"field":"p","type":"quantitative","scale":{"domain":[2494.3,2884.9],"nice":false,"zero":false},"axis":null},
  "color":{"field":"s","type":"nominal","scale":{"domain":["ru","rm","rl","bu","bm","bl"],"range":["#b5404f","#b5404f","#b5404f","#3482ad","#3482ad","#3482ad"]},"legend":null}}},
{"data":{"name":"TR"},"mark":{"type":"line","color":"#a6e014","strokeWidth":2,"strokeDash":[4,3]},
 "encoding":{"x":{"field":"i","type":"quantitative","scale":{"domain":[-0.75,92],"nice":false,"zero":false},"axis":null},
  "y":{"field":"p","type":"quantitative","scale":{"domain":[2494.3,2884.9],"nice":false,"zero":false},"axis":null}}},
{"data":{"name":"R"},"mark":{"type":"rule","color":"#9a9a9a","strokeWidth":1},
 "encoding":{"x":{"field":"i","type":"quantitative","scale":{"domain":[-0.75,92],"nice":false,"zero":false},"axis":null},
  "y":{"field":"l","type":"quantitative","scale":{"domain":[2494.3,2884.9],"nice":false,"zero":false},"axis":null},
  "y2":{"field":"h"}}},
{"data":{"name":"R"},"mark":{"type":"bar","size":3},
 "encoding":{"x":{"field":"i","type":"quantitative","scale":{"domain":[-0.75,92],"nice":false,"zero":false},"axis":null},
  "y":{"field":"o","type":"quantitative","scale":{"domain":[2494.3,2884.9],"nice":false,"zero":false},"axis":null},
  "y2":{"field":"c"},
  "color":{"condition":{"test":"datum.c>=datum.o","value":"#dcdcdc"},"value":"#d9586c"}}},
{"data":{"name":"RT"},"mark":{"type":"text","align":"left","baseline":"middle","fontSize":7.5,"font":"Liberation Sans"},
 "encoding":{"x":{"field":"i","type":"quantitative","scale":{"domain":[-0.75,92],"nice":false,"zero":false},"axis":null},
  "y":{"field":"p","type":"quantitative","scale":{"domain":[2494.3,2884.9],"nice":false,"zero":false},"axis":null},
  "text":{"field":"t"},
  "color":{"condition":[{"test":"datum.k=='c'","value":"#1fb3bf"},{"test":"datum.k=='s'","value":"#e07a80"}],"value":"#a6a6a6"}}},
{"data":{"name":"RT"},"mark":{"type":"point","shape":"M0,0 L1,0","filled":false,"size":2304,"strokeWidth":1,"strokeDash":[1,1.2],"yOffset":5,"opacity":0.85},
 "encoding":{"x":{"field":"i","type":"quantitative","scale":{"domain":[-0.75,92],"nice":false,"zero":false},"axis":null},
  "y":{"field":"p","type":"quantitative","scale":{"domain":[2494.3,2884.9],"nice":false,"zero":false},"axis":null},
  "color":{"condition":[{"test":"datum.k=='c'","value":"#1fb3bf"},{"test":"datum.k=='s'","value":"#e07a80"}],"value":"#a6a6a6"}}},
{"data":{"name":"RC"},"mark":{"type":"text","align":"left","baseline":"middle","fontSize":8,"font":"Liberation Sans"},
 "encoding":{"x":{"field":"i","type":"quantitative","scale":{"domain":[-0.75,92],"nice":false,"zero":false},"axis":null},
  "y":{"field":"p","type":"quantitative","scale":{"domain":[2494.3,2884.9],"nice":false,"zero":false},"axis":null},
  "text":{"field":"t"},
  "color":{"condition":{"test":"datum.k=='c'","value":"#2a8088"},"value":"#a0a0a0"}}},
{"data":{"name":"ARROW"},"mark":{"type":"rule","color":"#a0359e","strokeWidth":4,"strokeCap":"round"},
 "encoding":{"x":{"field":"i","type":"quantitative","scale":{"domain":[-0.75,92],"nice":false,"zero":false},"axis":null},"x2":{"field":"i2"},
  "y":{"field":"p","type":"quantitative","scale":{"domain":[2494.3,2884.9],"nice":false,"zero":false},"axis":null},"y2":{"field":"p2"}}},
{"data":{"name":"HEAD"},"mark":{"type":"point","shape":"triangle-left","filled":true,"opacity":1,"size":200,"color":"#a0359e","angle":10},
 "encoding":{"x":{"field":"i","type":"quantitative","scale":{"domain":[-0.75,92],"nice":false,"zero":false},"axis":null},
  "y":{"field":"p","type":"quantitative","scale":{"domain":[2494.3,2884.9],"nice":false,"zero":false},"axis":null}}},
{"data":{"name":"NOTE"},"mark":{"type":"point","filled":true,"opacity":1,"shape":"M-0.88,-0.29 L0.88,-0.29 A0.12,0.12 0 0 1 1,-0.17 L1,0.17 A0.12,0.12 0 0 1 0.88,0.29 L-0.88,0.29 A0.12,0.12 0 0 1 -1,0.17 L-1,-0.17 A0.12,0.12 0 0 1 -0.88,-0.29 Z","size":4900,"fill":"#f6f0f6","stroke":"#9a2e98","strokeWidth":3},
 "encoding":{"x":{"field":"i","type":"quantitative","scale":{"domain":[-0.75,92],"nice":false,"zero":false},"axis":null},
  "y":{"field":"p","type":"quantitative","scale":{"domain":[2494.3,2884.9],"nice":false,"zero":false},"axis":null}}},
{"data":{"name":"NOTE"},"mark":{"type":"text","align":"center","baseline":"middle","fontSize":13,"font":"Liberation Sans","color":"#9a2e98"},
 "encoding":{"x":{"field":"i","type":"quantitative","scale":{"domain":[-0.75,92],"nice":false,"zero":false},"axis":null},
  "y":{"field":"p","type":"quantitative","scale":{"domain":[2494.3,2884.9],"nice":false,"zero":false},"axis":null},
  "text":{"field":"t"}}},
{"data":{"name":"RF"},"mark":{"type":"point","filled":true,"opacity":1,"shape":"M0.05,0 L0.3,-0.27 L1.85,-0.27 L1.85,0.27 L0.3,0.27 Z","size":1600,"strokeWidth":1},
 "encoding":{"x":{"value":"width"},
  "y":{"field":"p","type":"quantitative","scale":{"domain":[2494.3,2884.9],"nice":false,"zero":false},"axis":null},
  "fill":{"condition":[{"test":"datum.k=='r'","value":"#a9434f"},{"test":"datum.k=='k'","value":"#000000"}],"value":"#3d8aa8"},
  "stroke":{"condition":[{"test":"datum.k=='r'","value":"#a9434f"},{"test":"datum.k=='k'","value":"#e0e0e0"}],"value":"#3d8aa8"}}},
{"data":{"name":"RF"},"mark":{"type":"text","align":"center","baseline":"middle","dx":22,"fontSize":8,"font":"Liberation Sans"},
 "encoding":{"x":{"value":"width"},
  "y":{"field":"p","type":"quantitative","scale":{"domain":[2494.3,2884.9],"nice":false,"zero":false},"axis":null},
  "text":{"field":"p","format":".2f"},
  "color":{"condition":[{"test":"datum.k=='r'","value":"#f2dcdc"},{"test":"datum.k=='k'","value":"#ffffff"}],"value":"#0c1e2a"}}}
]
}
]
}
